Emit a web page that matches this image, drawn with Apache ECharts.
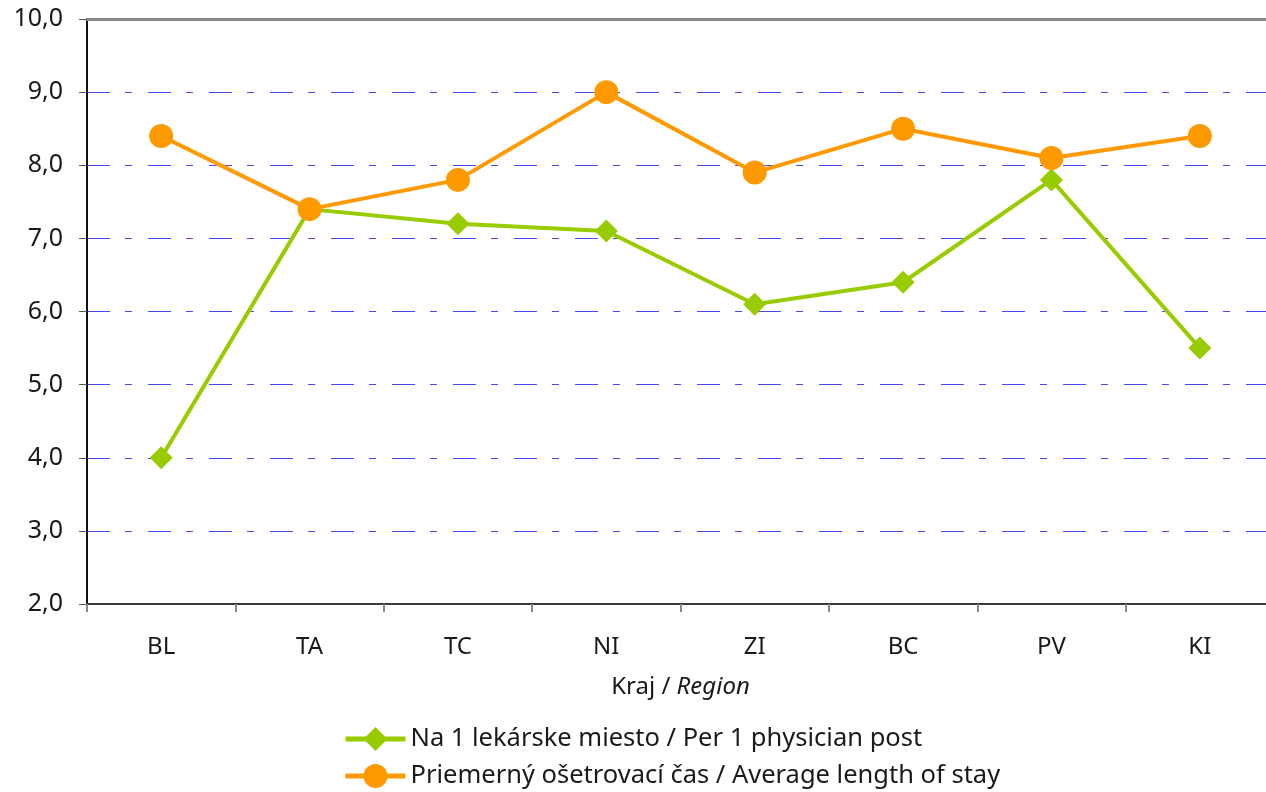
<!DOCTYPE html>
<html>
<head>
<meta charset="utf-8">
<script src="https://cdn.jsdelivr.net/npm/echarts@6/dist/echarts.min.js"></script>
<style>
  html, body { margin: 0; padding: 0; background: #fff; overflow: hidden; }
  #chart { width: 1280px; height: 792px; }
</style>
</head>
<body>
<div id="chart"></div>
<script>
var regions = ['BL', 'TA', 'TC', 'NI', 'ZI', 'BC', 'PV', 'KI'];
var perPhysician = [4.0, 7.4, 7.2, 7.1, 6.1, 6.4, 7.8, 5.5];
var avgStay = [8.4, 7.4, 7.8, 9.0, 7.9, 8.5, 8.1, 8.4];
var seriesNames = [
  'Na 1 lekárske miesto / Per 1 physician post',
  'Priemerný ošetrovací čas / Average length of stay'
];

var font = 'Noto Sans';
var chart = echarts.init(document.getElementById('chart'));

// one legend per row, so the two rows stack like the original
function legendRow(name, top) {
  return {
    orient: 'horizontal',
    left: 338,
    top: top,
    itemWidth: 60,
    itemHeight: 30,
    itemGap: 7,
    lineStyle: { width: 5 },
    textStyle: { fontSize: 25.5, color: '#1a1a1a', fontFamily: font },
    data: [name]
  };
}

var option = {
  animation: false,
  textStyle: { fontFamily: font },
  grid: { left: 87, right: 6, top: 19, bottom: 188, containLabel: false },
  legend: [legendRow(seriesNames[0], 721), legendRow(seriesNames[1], 758)],
  xAxis: [{
    type: 'category',
    data: regions,
    boundaryGap: true,
    axisLine: { lineStyle: { color: '#3a3a3a', width: 2 } },
    axisTick: { show: true, length: 8, lineStyle: { color: '#888', width: 2 } },
    axisLabel: { fontSize: 24, color: '#1a1a1a', margin: 31 },
    name: '{a|Kraj / }{b|Region}',
    nameLocation: 'middle',
    nameGap: 71,
    nameTextStyle: {
      rich: {
        a: { fontSize: 24, color: '#1a1a1a', fontFamily: font },
        b: { fontSize: 24, color: '#1a1a1a', fontFamily: font, fontStyle: 'italic' }
      }
    }
  }, {
    type: 'category',
    data: regions,
    position: 'top',
    axisLine: { lineStyle: { color: '#888', width: 3 } },
    axisTick: { show: false },
    axisLabel: { show: false }
  }],
  yAxis: {
    type: 'value',
    min: 2,
    max: 10,
    interval: 1,
    axisLine: { show: true, lineStyle: { color: '#111', width: 2 } },
    axisTick: { show: true, length: 8, lineStyle: { color: '#555', width: 1 } },
    axisLabel: {
      fontSize: 25,
      color: '#1a1a1a',
      margin: 24,
      formatter: function (v) { return v.toFixed(1).replace('.', ','); }
    },
    splitLine: {
      show: true,
      lineStyle: { color: '#4848f0', width: 1, type: [23, 15, 7, 16] }
    }
  },
  series: [{
    name: seriesNames[0],
    type: 'line',
    data: perPhysician,
    symbol: 'diamond',
    symbolSize: 23,
    lineStyle: { color: '#99cc00', width: 4 },
    itemStyle: { color: '#99cc00' }
  }, {
    name: seriesNames[1],
    type: 'line',
    data: avgStay,
    symbol: 'circle',
    symbolSize: 24,
    lineStyle: { color: '#ff9900', width: 4 },
    itemStyle: { color: '#ff9900' }
  }]
};

chart.setOption(option);
</script>
</body>
</html>
